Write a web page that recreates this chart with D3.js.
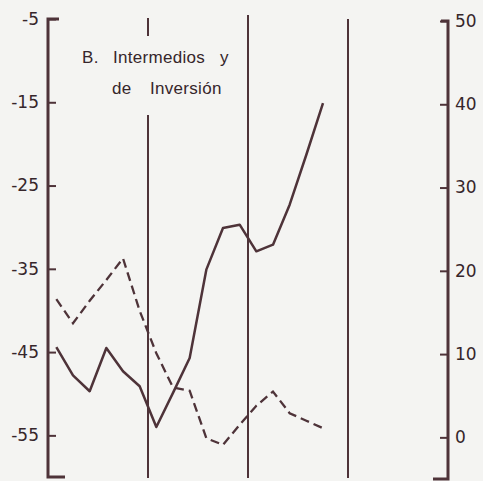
<!DOCTYPE html>
<html>
<head>
<meta charset="utf-8">
<script src="https://cdn.jsdelivr.net/npm/d3@7"></script>
<style>
  html, body { margin: 0; padding: 0; background: #f4f4f2; }
  svg { display: block; }
</style>
</head>
<body>
<div id="chart"></div>
<script>
(function () {
  const W = 483, H = 481;
  const INK = '#4e3339';
  const TXT = '#36262b';

  // bimonthly observations, 4 years x 6 (first 17 have data)
  const solidVals = [-44.4, -47.8, -49.7, -44.5, -47.3, -49.1, -54.0, -49.9, -45.7,
    -35.1, -30.1, -29.7, -32.9, -32.1, -27.3, -21.3, -15.1];
  const dashedVals = [16.6, 13.7, 16.4, 18.9, 21.5, 15.2, 10.1, 6.0, 5.6,
    -0.1, -0.9, 1.5, 3.8, 5.5, 2.9, 2.0, 1.1];
  const leftTicks = [-5, -15, -25, -35, -45, -55];
  const rightTicks = [50, 40, 30, 20, 10, 0];
  const yearBreaks = [6, 12, 18];
  const titleLines = [['B.', 'Intermedios', 'y'], ['de', 'Inversión']];

  const svg = d3.select('#chart').append('svg')
    .attr('width', W).attr('height', H);

  const x = d3.scaleLinear().domain([-0.5, 23.5]).range([48, 448]);
  const yL = d3.scaleLinear().domain([-60, -5]).range([477, 19]);
  const yR = d3.scaleLinear().domain([-5, 50]).range([479, 21]);

  // year separators
  yearBreaks.forEach((b, i) => {
    const xx = x(b - 0.5);
    const segs = i === 0 ? [[18, 36], [115, 478]] : [[i === 1 ? 15 : 19, 478]];
    segs.forEach(s => {
      svg.append('line')
        .attr('x1', xx).attr('x2', xx)
        .attr('y1', s[0]).attr('y2', s[1])
        .attr('stroke', INK).attr('stroke-width', 2);
    });
  });

  const styleLabels = g => g.selectAll('text')
    .style('font-family', "'DejaVu Sans', sans-serif")
    .style('font-size', '17px')
    .style('fill', TXT);

  // left axis
  const gL = svg.append('g').attr('transform', 'translate(48,0)')
    .call(d3.axisLeft(yL).tickValues(leftTicks).tickSizeInner(-8).tickSizeOuter(0).tickPadding(9)
      .tickFormat(d => String(d)));
  gL.select('.domain').remove();
  gL.selectAll('line').attr('stroke', INK).attr('stroke-width', 2);
  styleLabels(gL);
  svg.append('path')
    .attr('d', `M59,${yL(-5)}H48V${yL(-60)}H65`)
    .attr('fill', 'none').attr('stroke', INK).attr('stroke-width', 3);

  // right axis
  const gR = svg.append('g').attr('transform', 'translate(448,0)')
    .call(d3.axisRight(yR).tickValues(rightTicks).tickSizeInner(-8).tickSizeOuter(0).tickPadding(7));
  gR.select('.domain').remove();
  gR.selectAll('line').attr('stroke', INK).attr('stroke-width', 2);
  styleLabels(gR);
  svg.append('path')
    .attr('d', `M441,${yR(50)}H448V${yR(-5)}H433`)
    .attr('fill', 'none').attr('stroke', INK).attr('stroke-width', 3);

  // series
  const solidLine = d3.line().x((d, i) => x(i)).y(d => yL(d));
  svg.append('path').datum(solidVals)
    .attr('d', solidLine)
    .attr('fill', 'none').attr('stroke', INK).attr('stroke-width', 2.5)
    .attr('stroke-linejoin', 'round');

  const dashedLine = d3.line().x((d, i) => x(i)).y(d => yR(d));
  svg.append('path').datum(dashedVals)
    .attr('d', dashedLine)
    .attr('fill', 'none').attr('stroke', INK).attr('stroke-width', 2.3)
    .attr('stroke-dasharray', '9,5');

  // panel title
  const titlePos = [[[82, 63], [113, 63], [220, 63]], [[112, 94], [150, 94]]];
  titleLines.forEach((words, r) => {
    words.forEach((w, j) => {
      svg.append('text')
        .attr('x', titlePos[r][j][0]).attr('y', titlePos[r][j][1])
        .style('font-family', "'Liberation Sans', Arial, sans-serif")
        .style('font-size', '17px')
        .style('letter-spacing', '0.3px')
        .style('fill', TXT)
        .text(w);
    });
  });
})();
</script>
</body>
</html>
